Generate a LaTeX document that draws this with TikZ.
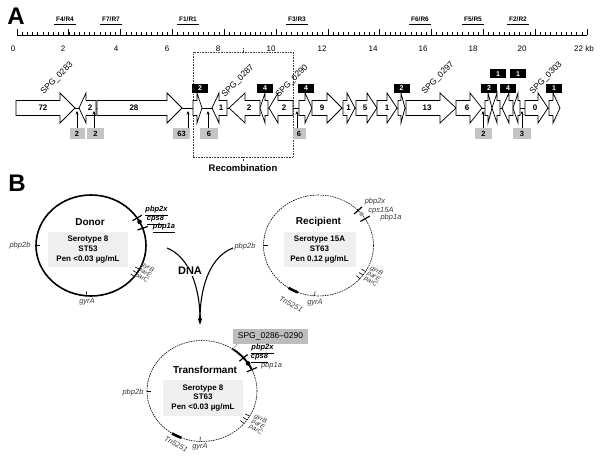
\documentclass[tikz,border=0pt]{standalone}
\usepackage{fontspec}
\setmainfont{Liberation Sans}
\usetikzlibrary{arrows.meta,calc}
\definecolor{lgray}{HTML}{C4C4C4}
\definecolor{boxgray}{HTML}{EFEFEF}
\definecolor{spggray}{HTML}{BDBDBD}
\definecolor{lblgray}{HTML}{3A3A3A}
\definecolor{dotgray}{HTML}{A8A8A8}
\newcommand\fsz[2]{\fontsize{#1}{#2}\selectfont}
% right gene: name, x1, xh, x2, lx, label
\newcommand\gR[6]{%
  \draw[gene] (#2,100.5) -- (#3,100.5) -- (#3,93) -- (#4,108) -- (#3,123) -- (#3,115.5) -- (#2,115.5) -- cycle;
  \node[gnum] (#1) at (#5,108) {#6};}
% left gene: name, tip, xh, x2, lx, label
\newcommand\gL[6]{%
  \draw[gene] (#2,108) -- (#3,93) -- (#3,100.5) -- (#4,100.5) -- (#4,115.5) -- (#3,115.5) -- (#3,123) -- cycle;
  \node[gnum] (#1) at (#5,108) {#6};}
\newcommand\primer[3]{%
  \node[font=\fsz{6.5}{6.5}\bfseries, inner sep=0pt] (#1) at (#2,19) {#3};
  \draw[line width=0.7pt] ($(#1.south west)+(-1.5,3)$) -- ($(#1.south east)+(1.5,3)$);}
\newcommand\rt[5][]{\draw[#1] ($(#2)+({#4*55*cos(#3)},{-#4*50.5*sin(#3)})$) -- ($(#2)+({#5*55*cos(#3)},{-#5*50.5*sin(#3)})$);}
\newcommand\rdot[4]{\fill[#4] ($(#1)+({55*cos(#2)},{-50.5*sin(#2)})$) circle[radius=#3];}
% three rotated gene labels: prefix, x, y of first line, dx, dy per line
\newcommand\gyr[5]{%
  \node[rlab] (#1a) at (#2,#3) {gyrB};
  \node[rlab] (#1b) at ({#2+#4},{#3+#5}) {parE};
  \node[rlab] (#1c) at ({#2+2*#4},{#3+2*#5}) {parC};}
\begin{document}
\begin{tikzpicture}[x=1pt,y=-1pt,
  gene/.style={draw, fill=white, line width=0.75pt, line join=miter},
  gnum/.style={font=\fsz{8}{8}\bfseries, inner sep=0pt},
  bbox/.style={fill=black, text=white, font=\fsz{7}{7}\bfseries, minimum width=16, minimum height=9, inner sep=0pt},
  gbox/.style={fill=lgray, font=\fsz{7.5}{7.5}\bfseries, minimum width=15, minimum height=11, inner sep=0pt},
  upar/.style={line width=0.7pt, -{Stealth[length=3.5pt,width=3pt]}},
  spg/.style={font=\fsz{8.5}{8.5}, rotate=45, inner sep=0pt},
  ital/.style={font=\fsz{7.5}{7.5}\itshape, text=lblgray, inner sep=0.5pt},
  bital/.style={font=\fsz{7.5}{7.5}\bfseries\itshape, inner sep=0.5pt},
  ibox/.style={fill=boxgray, align=center, font=\fsz{8}{9.7}\bfseries, inner sep=0pt, minimum height=35},
  ttl/.style={font=\fsz{10}{10}\bfseries, inner sep=0pt},
  rlab/.style={font=\fsz{6.5}{6.5}\itshape, text=lblgray, inner sep=0pt, rotate=-30},
  recip/.style={line width=0.6pt, dash pattern=on 1.6pt off 0.9pt},
]
\useasboundingbox (0,0) rectangle (600,470);
% ---------------- Panel A ----------------
\node[font=\fsz{24}{24}\bfseries, inner sep=0pt] (labA) at (16,16.5) {A};
\primer{p4}{65}{F4/R4}
\primer{p7}{111}{F7/R7}
\primer{p1}{188}{F1/R1}
\primer{p3}{297}{F3/R3}
\primer{p6}{420}{F6/R6}
\primer{p5}{473}{F5/R5}
\primer{p2}{518}{F2/R2}
% ruler
\draw[line width=0.7pt] (17,35) -- (587,35);
\foreach \k in {0,...,110} \draw[line width=0.5pt] ({17+5.18182*\k},35) -- ++(0,-2.6);
\foreach \k in {0,...,11} \draw[line width=0.7pt] ({17+51.8182*\k},35) -- ++(0,-5.5);
\foreach \v/\xx in {0/13,2/63,4/116,6/167,8/218,10/271,12/322,14/373,16/423,18/473,20/522}
  \node[font=\fsz{8}{8}, inner sep=0pt] (t\v) at (\xx,48.5) {\v};
\node[font=\fsz{8}{8}, inner sep=0pt, anchor=west] (t22) at (574,48.5) {22 kb};
% recombination bracket
\draw[line width=0.6pt, densely dotted, black!75] (193,157) -- (193,52) -- (293,52) -- (293,157) -- cycle;
\draw[line width=0.6pt, densely dotted, black!75] (243,52) -- (243,48.5) (243,157) -- (243,161);
\node[font=\fsz{9.5}{9.5}\bfseries, inner sep=0pt] (recomb) at (243,168) {Recombination};
% backbone
\draw[line width=0.75pt] (60,108) -- (555,108);
% genes
\gR{g72}{16}{60}{75}{43}{72}
\gL{g2a}{79}{86}{96}{90}{2}
\gR{g28}{97}{167}{182}{134}{28}
\gR{gt1}{193}{197}{202}{200}{}
\gL{g1a}{212}{219}{227}{221}{1}
\gL{g2b}{229}{245}{260}{249}{2}
\gL{gt2}{260}{265}{268}{265}{}
\gL{g2c}{269}{278}{293}{284}{2}
\gR{gt3}{299}{305}{312}{306}{}
\gR{g9}{312}{327}{342}{322}{9}
\gR{g1b}{343}{347}{355}{348.5}{1}
\gR{g5}{356}{367}{377}{365}{5}
\gR{g1c}{377}{387}{397}{387}{1}
\gR{gt4}{398}{401}{405}{401.5}{}
\gR{g13}{406}{440}{456}{427}{13}
\gR{g6}{456}{470}{482}{467}{6}
\gR{gt5}{485}{488}{492}{489}{}
\gL{gt6}{492}{497}{500}{497}{}
\gL{gt7}{502}{509}{513}{508}{}
\gL{gt8}{513}{518}{520}{517}{}
\gR{g0}{525}{538}{548}{535}{0}
\gR{gt9}{549}{553}{560}{554}{}
% black boxes
\node[bbox] (b1) at (200,88.5) {2};
\node[bbox] (b2) at (265,88.5) {4};
\node[bbox] (b3) at (306,88.5) {4};
\node[bbox] (b4) at (401.5,88.5) {2};
\node[bbox] (b5) at (489,88.5) {2};
\node[bbox] (b6) at (508,88.5) {4};
\node[bbox] (b7) at (554,88.5) {1};
\node[bbox] (b8) at (498,74) {1};
\node[bbox] (b9) at (518,74) {1};
% SPG labels
\node[spg] (s283) at (57,78.5) {SPG\_0283};
\node[spg] (s287) at (238,81) {SPG\_0287};
\node[spg] (s290) at (292,81) {SPG\_0290};
\node[spg] (s297) at (438,78) {SPG\_0297};
\node[spg] (s303) at (546,78) {SPG\_0303};
% grey boxes with arrows
\node[gbox] (q1) at (77,134) {2};
\node[gbox, minimum width=17] (q2) at (95.5,134) {2};
\node[gbox, minimum width=17] (q3) at (181.5,134) {63};
\node[gbox, minimum width=18] (q4) at (209,134) {6};
\node[gbox, minimum width=13] (q5) at (299,134) {6};
\node[gbox, minimum width=17] (q6) at (483.5,134) {2};
\node[gbox, minimum width=18] (q7) at (522,134) {3};
\coordinate (a1) at (77,111);
\coordinate (a2) at (94,111);
\coordinate (a3) at (188,111);
\coordinate (a4) at (208,111);
\coordinate (a5) at (297,111);
\coordinate (a6) at (483,111);
\coordinate (a7) at (522,111);
\foreach \i in {1,...,7} \draw[upar] (q\i.north -| a\i) -- (a\i);
% ---------------- Panel B ----------------
\node[font=\fsz{24}{24}\bfseries, inner sep=0pt] (labB) at (17,183) {B};
% Donor
\coordinate (D) at (91,245.5);
\draw[line width=1.6pt] (D) ellipse [x radius=55, y radius=50.5];
\node[ttl] (donor) at (90,222) {Donor};
\node[ibox, minimum width=80] (dbox) at (88,249.5) {Serotype 8\\ST53\\Pen <0.03 µg/mL};
\rt[line width=1.2pt]{D}{33}{0.9}{1.1}
\rdot{D}{28}{2.3}{black}
\rt[line width=1.2pt]{D}{20}{0.9}{1.1}
\rt[line width=0.6pt]{D}{180}{0.92}{1}
\rt[line width=0.6pt]{D}{-95}{0.91}{1}
\foreach \a in {-28,-33,-38} {\rt[line width=0.6pt]{D}{\a}{0.91}{1}}
\node[bital] (d2x) at (156.5,211) {\underline{pbp2x}};
\node[bital] (dcps) at (155.5,220) {\underline{cps8}};
\node[bital] (d1a) at (164,228) {\underline{pbp1a}};
\node[ital] (d2b) at (20,246) {pbp2b};
\node[ital] (dgA) at (87,302) {gyrA};
\gyr{dg}{147.5}{267.5}{-2.9}{5.4}
% Recipient
\coordinate (R) at (318.5,245.5);
\draw[recip] (R) ellipse [x radius=55, y radius=50.5];
\node[ttl] (recipient) at (318.5,222) {Recipient};
\node[ibox, minimum width=72] (rbox) at (319.5,249.5) {Serotype 15A\\ST63\\Pen 0.12 µg/mL};
\rt[line width=1.2pt]{R}{44}{0.9}{1.1}
\rdot{R}{38.5}{2.3}{dotgray}
\rt[line width=1.2pt]{R}{32}{0.9}{1.1}
\rt[line width=0.6pt]{R}{180}{0.92}{1}
\rt[line width=0.6pt]{R}{-94}{0.91}{1}
\foreach \a in {-31,-36,-41} {\rt[line width=0.6pt]{R}{\a}{0.91}{1}}
\draw[line width=2.6pt, variable=\t, domain=-123:-112, samples=6] plot ({318.5+55*cos(\t)},{245.5-50.5*sin(\t)});
\node[ital] (r2x) at (375,202) {pbp2x};
\node[ital] (rcps) at (381,211) {cps15A};
\node[ital] (r1a) at (391,218) {pbp1a};
\node[ital] (r2b) at (245,247) {pbp2b};
\node[ital] (rgA) at (315,302.5) {gyrA};
\node[ital, rotate=-28] (rTn) at (291,304.5) {Tn5251};
\gyr{rg}{376.5}{271}{-2.9}{5.4}
% DNA arrows
\coordinate (d1) at (167,248);
\coordinate (d2) at (233,248);
\coordinate (dj) at (200,316);
\coordinate (dm) at (200,325);
\draw[line width=1.1pt] (d1) .. controls (187,256) and (199,282) .. (dj);
\draw[line width=1.1pt] (d2) .. controls (212,256) and (201,282) .. (dj);
\draw[line width=1.1pt, -{Stealth[length=7pt,width=4.5pt]}] (dj) -- (dm);
\node[font=\fsz{11}{11}\bfseries, fill=white, inner sep=1pt] (dna) at (190,271) {DNA};
% Transformant
\coordinate (T) at (202,391);
\draw[recip] (T) ellipse [x radius=55, y radius=50.5];
\node[ttl] (transf) at (205,370) {Transformant};
\node[ibox, minimum width=80, minimum height=36] (tbox) at (203,398) {Serotype 8\\ST63\\Pen <0.03 µg/mL};
\draw[line width=1.9pt, variable=\t, domain=26:57, samples=12] plot ({202+55*cos(\t)},{391-50.5*sin(\t)});
\rt[line width=1.2pt]{T}{41}{0.9}{1.1}
\rdot{T}{33}{2.3}{black}
\rt[line width=1.2pt]{T}{25}{0.9}{1.1}
\rt[line width=0.6pt]{T}{180}{0.92}{1}
\rt[line width=0.6pt]{T}{-92}{0.91}{1}
\foreach \a in {-30,-35,-40} {\rt[line width=0.6pt]{T}{\a}{0.91}{1}}
\draw[line width=2.6pt, variable=\t, domain=-123:-112, samples=6] plot ({202+55*cos(\t)},{391-50.5*sin(\t)});
\node[fill=spggray, minimum width=75, minimum height=15, inner sep=0pt, font=\fsz{8.5}{8.5}] (spgbox) at (270.5,336.5) {SPG\_0286–0290};
\coordinate (tarc) at (232.5,350);
\draw[line width=0.6pt, black!45] ($(spgbox.south west)+(4,0)$) -- (tarc);
\node[bital] (t2x) at (262.5,349) {\underline{pbp2x}};
\node[bital] (tcps) at (259.5,358) {\underline{cps8}};
\node[ital] (t1a) at (271.5,366) {pbp1a};
\node[ital] (t2b) at (133,393) {pbp2b};
\node[ital] (tgA) at (200,447) {gyrA};
\node[ital, rotate=-28] (tTn) at (176,444.5) {Tn5251};
\gyr{tg}{260.5}{419}{-2.4}{5.4}
\end{tikzpicture}
\end{document}
